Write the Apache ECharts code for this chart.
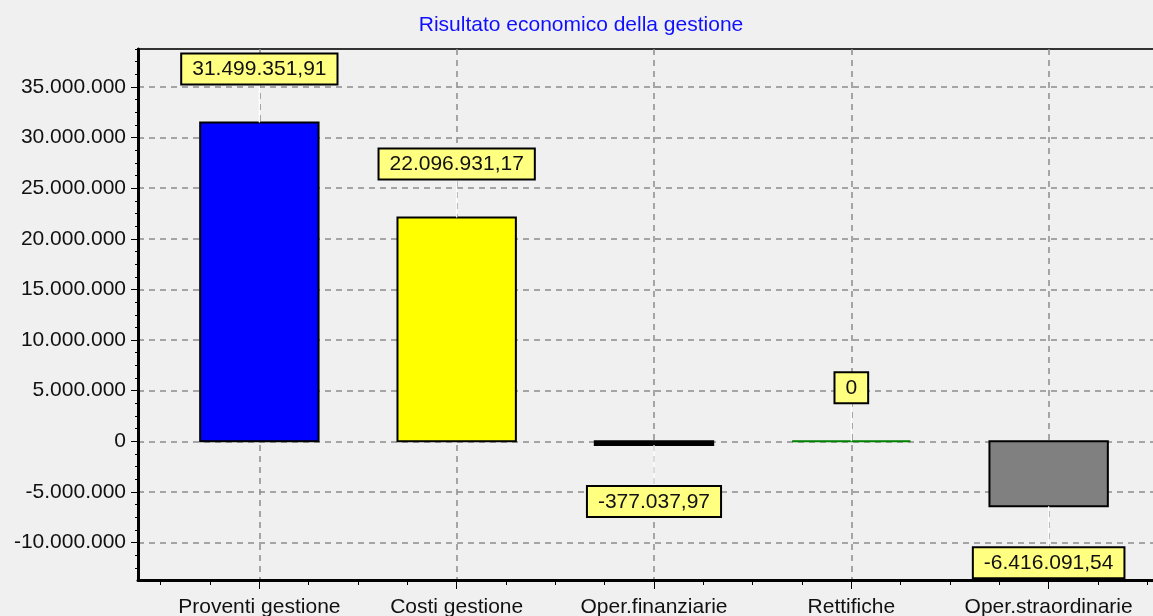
<!DOCTYPE html>
<html>
<head>
<meta charset="utf-8">
<title>Risultato economico della gestione</title>
<script src="https://cdn.jsdelivr.net/npm/echarts@6/dist/echarts.min.js"></script>
<style>
  html, body { margin: 0; padding: 0; background: #f0f0f0; }
  #chart { width: 1153px; height: 616px; }
</style>
</head>
<body>
<div id="chart"></div>
<script>
// Voci del conto economico
const categories = ['Proventi gestione', 'Costi gestione', 'Oper.finanziarie', 'Rettifiche', 'Oper.straordinarie'];
const values = [31499351.91, 22096931.17, -377037.97, 0, -6416091.54];
const barColors = ['#0000ff', '#ffff00', '#000000', '#008000', '#808080'];
const barBorders = ['#000000', '#000000', '#000000', '#008000', '#000000'];

// Tacche dell'asse dei valori
const yTicks = [-10000000, -5000000, 0, 5000000, 10000000, 15000000, 20000000, 25000000, 30000000, 35000000];
const yMinorStep = 1250000;

const FONT = '"Liberation Sans", Arial, sans-serif';

// Formato italiano: punto per le migliaia, virgola per i decimali
function fmtIt(v) {
  const neg = v < 0;
  const a = Math.abs(v);
  const isInt = Math.abs(a - Math.round(a)) < 1e-9;
  const s = isInt ? String(Math.round(a)) : a.toFixed(2);
  const parts = s.split('.');
  const intPart = parts[0].replace(/\B(?=(\d{3})+(?!\d))/g, '.');
  return (neg ? '-' : '') + intPart + (parts[1] ? ',' + parts[1] : '');
}

// Tacche principali al centro di ogni voce, secondarie ogni quarto
const xCenters = categories.map((c, i) => i + 1);
const xMinor = [];
for (let q = 0.5; q <= categories.length + 0.5 + 1e-9; q += 0.25) {
  if (Math.abs(q - Math.round(q)) > 1e-9) xMinor.push(+q.toFixed(2));
}
const yMinor = [];
for (let v = -12500000; v <= 38750000; v += yMinorStep) {
  if (v % 5000000 !== 0) yMinor.push(v);
}

const X_MIN = 0.385, X_MAX = 5.615;
const Y_MIN = -13700000, Y_MAX = 38750000;

const gridLine = { show: true, lineStyle: { color: '#8c8c8c', width: 1.5, type: [6, 5] } };

const chart = echarts.init(document.getElementById('chart'), null, { renderer: 'canvas' });

chart.setOption({
  backgroundColor: '#f0f0f0',
  animation: false,
  title: {
    text: 'Risultato economico della gestione',
    left: 576,
    textAlign: 'center',
    top: 10,
    textStyle: { color: '#1010ff', fontSize: 21, fontWeight: 'normal', fontFamily: FONT }
  },
  grid: {
    left: 138, top: 49, width: 1032, height: 531,
    outerBoundsMode: 'none',
    show: true, borderColor: '#333', borderWidth: 2, backgroundColor: 'transparent'
  },
  xAxis: [
    {
      type: 'value', min: X_MIN, max: X_MAX, position: 'bottom',
      axisLine: { show: true, onZero: false, lineStyle: { color: '#000', width: 3 } },
      axisTick: { show: true, customValues: xCenters, length: 9, lineStyle: { color: '#000', width: 1 } },
      axisLabel: {
        customValues: xCenters, margin: 17,
        color: '#111', fontSize: 21, fontFamily: FONT,
        formatter: v => categories[Math.round(v) - 1] || ''
      },
      splitLine: gridLine
    },
    {
      type: 'value', min: X_MIN, max: X_MAX, position: 'bottom',
      axisLine: { show: false, onZero: false },
      axisTick: { show: true, customValues: xMinor, length: 5, lineStyle: { color: '#000', width: 1 } },
      axisLabel: { show: false },
      splitLine: { show: false }
    }
  ],
  yAxis: [
    {
      type: 'value', min: Y_MIN, max: Y_MAX, position: 'left',
      axisLine: { show: true, onZero: false, lineStyle: { color: '#000', width: 3 } },
      axisTick: { show: true, customValues: yTicks, length: 7, lineStyle: { color: '#000', width: 1 } },
      axisLabel: {
        customValues: yTicks, margin: 12,
        color: '#111', fontSize: 21, fontFamily: FONT,
        formatter: v => fmtIt(v)
      },
      splitLine: gridLine
    },
    {
      type: 'value', min: Y_MIN, max: Y_MAX, position: 'left',
      axisLine: { show: false, onZero: false },
      axisTick: { show: true, customValues: yMinor, length: 3, lineStyle: { color: '#000', width: 1 } },
      axisLabel: { show: false },
      splitLine: { show: false }
    }
  ],
  series: [{
    type: 'custom',
    xAxisIndex: 0,
    yAxisIndex: 0,
    data: values.map((v, i) => [i + 1, v]),
    clip: false,
    renderItem: function (params, api) {
      const i = params.dataIndex;
      const x = api.value(0);
      const v = api.value(1);
      const pL = api.coord([x - 0.3, 0]);
      const pR = api.coord([x + 0.3, v]);
      const pc = api.coord([x, v]);
      const zeroY = pL[1];
      const endY = pR[1];
      const top = Math.min(zeroY, endY);
      const h = Math.abs(endY - zeroY);
      const children = [];

      // barra
      children.push({
        type: 'rect',
        shape: { x: pL[0], y: top, width: pR[0] - pL[0], height: h },
        style: { fill: barColors[i], stroke: barBorders[i], lineWidth: 2 }
      });

      // filo bianco fra barra ed etichetta
      const neg = v < 0;
      const boxEdge = neg ? endY + 42 : endY - 39;
      children.push({
        type: 'line',
        shape: { x1: pc[0], y1: endY, x2: pc[0], y2: boxEdge },
        style: { stroke: '#ffffff', lineWidth: 1.2 },
        z2: 5
      });

      // etichetta col valore
      children.push({
        type: 'text',
        x: pc[0],
        y: boxEdge,
        z2: 10,
        style: {
          text: fmtIt(v),
          fill: '#111',
          font: '21px ' + FONT,
          align: 'center',
          verticalAlign: neg ? 'top' : 'bottom',
          lineHeight: 22,
          backgroundColor: '#ffff80',
          borderColor: '#000',
          borderWidth: 2,
          padding: [4, 10, 3, 10]
        }
      });
      return { type: 'group', children: children };
    }
  }]
});
</script>
</body>
</html>
